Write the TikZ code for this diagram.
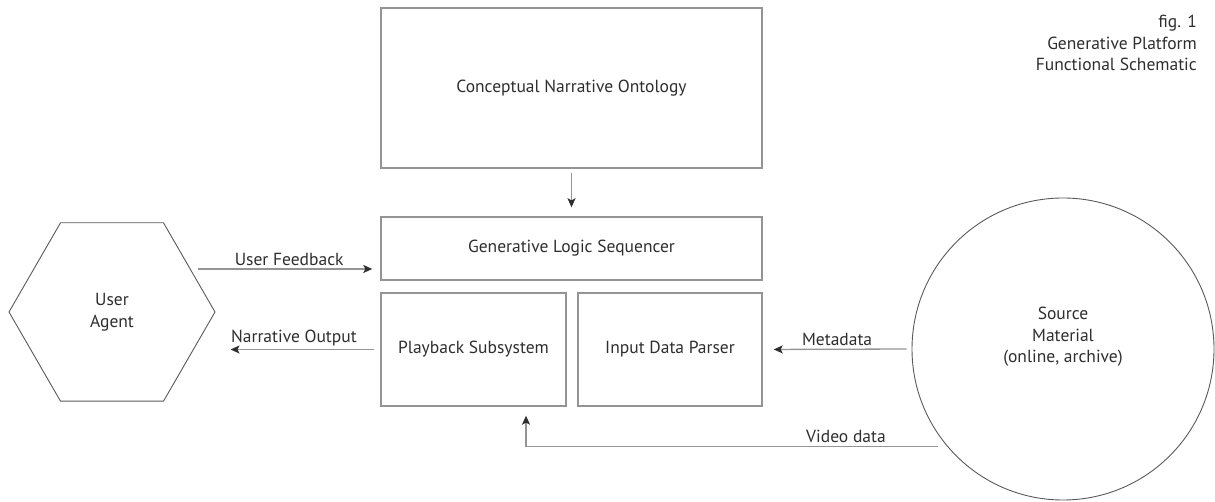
\documentclass[tikz,border=0pt]{standalone}
\usepackage{fontspec}
\setmainfont{PT Sans}
\usetikzlibrary{arrows.meta, positioning, shapes.geometric}
\definecolor{boxgray}{gray}{0.58}
\definecolor{inkgray}{gray}{0.18}
\definecolor{rimgray}{gray}{0.35}

\begin{document}
\begin{tikzpicture}[x=1pt, y=1pt,
    >={Stealth[length=9pt, width=8pt, inset=2pt, color=inkgray]},
    font=\fontsize{17.5}{21.5}\selectfont, text=inkgray,
    block/.style={draw=boxgray, line width=1.4pt, inner sep=0pt, align=center},
    rim/.style={draw=rimgray, line width=0.9pt, inner sep=0pt, align=center},
    flow/.style={->, draw=boxgray, line width=1.3pt}]
    \useasboundingbox (0,0) rectangle (1215,502);

    % Title
    \node[anchor=north east, align=right, inner sep=0pt] (title) at (1197,487) {fig. 1\\Generative Platform\\Functional Schematic};

    % Central blocks
    \node[block, minimum width=381pt, minimum height=160pt] (onto) at (571.5,414) {Conceptual Narrative Ontology};
    \node[block, minimum width=381pt, minimum height=63pt] (seq) at (571.5,253.5) {Generative Logic Sequencer};
    \node[block, minimum width=185pt, minimum height=113pt] (play) at (473.5,152.5) {Playback Subsystem};
    \node[block, minimum width=184pt, minimum height=113pt] (parser) at (670,152.5) {Input Data Parser};

    % User and source
    \node[rim, regular polygon, regular polygon sides=6, minimum size=206pt] (user) at (112,190) {User\\Agent};
    \node[rim, circle, minimum size=302pt, label={[align=center, yshift=12pt]center:{Source\\Material\\(online, archive)}}] (src) at (1063,153) {};

    % Connectors
    \draw[flow, shorten <=4pt, shorten >=9pt] (onto) -- (seq);

    \coordinate (fb) at (198,233);
    \draw[flow, shorten >=8pt] (fb) -- (fb -| seq.west) node[midway, above, inner sep=3pt] {User Feedback};

    \draw[flow, shorten <=6pt, shorten >=15pt] (play.west) -- (play.west -| user.east) node[midway, above, inner sep=3pt, xshift=-4pt] {Narrative Output};

    \draw[flow, shorten <=5pt, shorten >=11pt] (src.west) -- (parser.east) node[midway, above, inner sep=3pt] {Metadata};

    \draw[flow, shorten <=9pt] (src.220) -| ([xshift=52.5pt, yshift=-9pt]play.south) node[pos=0.12, above, inner sep=3pt] {Video data};

\end{tikzpicture}
\end{document}
